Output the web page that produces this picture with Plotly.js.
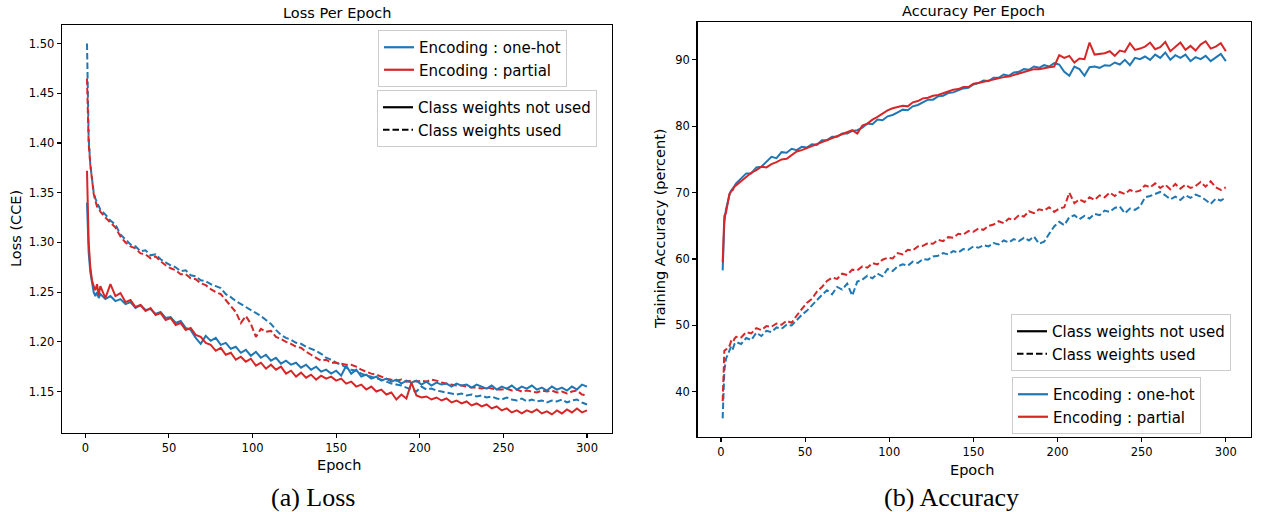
<!DOCTYPE html>
<html>
<head>
<meta charset="utf-8">
<script src="https://cdn.plot.ly/plotly-3.0.1.min.js"></script>
<style>
html,body{margin:0;padding:0;background:#fff;}
#chart{width:1262px;height:512px;}
</style>
</head>
<body>
<div id="chart"></div>
<script>
// ---- Data ----
const epochs = [1,2,3,4,5,6,7,8,
  9,12,15,18,21,24,27,30,33,36,
  39,42,45,48,51,54,57,60,63,66,
  69,72,75,78,81,84,87,90,93,96,
  99,102,105,108,111,114,117,120,123,126,
  129,132,135,138,141,144,147,150,153,156,
  159,162,165,168,171,174,177,180,183,186,
  189,192,195,198,201,204,207,210,213,216,
  219,222,225,228,231,234,237,240,243,246,
  249,252,255,258,261,264,267,270,273,276,
  279,282,285,288,291,294,297,300];

// Loss (CCE)
const lossOneHotNoWeights = [1.340,1.290,1.270,1.258,1.250,1.246,1.250,1.244,
  1.248,1.243,1.246,1.241,1.243,1.238,1.240,1.234,1.237,1.232,
  1.233,1.228,1.230,1.224,1.225,1.219,1.221,1.214,1.212,1.204,
  1.198,1.206,1.201,1.204,1.197,1.199,1.193,1.195,1.189,1.192,
  1.186,1.190,1.184,1.187,1.181,1.184,1.178,1.181,1.177,1.179,
  1.174,1.177,1.172,1.175,1.170,1.172,1.168,1.171,1.166,1.176,
  1.168,1.172,1.165,1.167,1.163,1.165,1.161,1.163,1.160,1.162,
  1.158,1.161,1.159,1.161,1.157,1.160,1.156,1.159,1.157,1.158,
  1.155,1.158,1.156,1.157,1.154,1.157,1.155,1.153,1.156,1.152,
  1.155,1.153,1.156,1.152,1.155,1.153,1.156,1.152,1.154,1.151,
  1.155,1.152,1.154,1.151,1.155,1.152,1.157,1.155];
const lossPartialNoWeights = [1.372,1.300,1.275,1.262,1.256,1.252,1.258,1.247,
  1.256,1.244,1.258,1.246,1.249,1.240,1.242,1.235,1.237,1.231,
  1.234,1.227,1.229,1.222,1.224,1.217,1.219,1.212,1.214,1.207,
  1.205,1.199,1.197,1.191,1.194,1.187,1.189,1.182,1.185,1.180,
  1.183,1.176,1.179,1.173,1.177,1.172,1.175,1.168,1.171,1.165,
  1.169,1.164,1.167,1.162,1.166,1.163,1.165,1.161,1.163,1.158,
  1.160,1.155,1.157,1.152,1.155,1.150,1.152,1.147,1.149,1.142,
  1.147,1.143,1.159,1.146,1.144,1.145,1.142,1.144,1.141,1.143,
  1.139,1.141,1.138,1.140,1.136,1.138,1.135,1.137,1.133,1.135,
  1.131,1.133,1.129,1.131,1.128,1.131,1.129,1.132,1.128,1.130,
  1.127,1.131,1.128,1.132,1.129,1.133,1.129,1.131];
const lossOneHotWeights = [1.500,1.405,1.378,1.360,1.350,1.344,1.340,1.336,
  1.333,1.328,1.322,1.318,1.308,1.303,1.298,1.296,1.291,1.292,
  1.287,1.288,1.283,1.280,1.277,1.275,1.271,1.272,1.267,1.266,
  1.262,1.261,1.258,1.256,1.254,1.248,1.245,1.241,1.238,1.235,
  1.232,1.229,1.226,1.222,1.218,1.212,1.207,1.204,1.202,1.199,
  1.198,1.195,1.193,1.191,1.188,1.184,1.182,1.179,1.177,1.174,
  1.172,1.171,1.168,1.166,1.165,1.163,1.162,1.160,1.158,1.157,
  1.156,1.154,1.152,1.150,1.155,1.152,1.153,1.151,1.150,1.149,
  1.148,1.147,1.148,1.146,1.147,1.145,1.146,1.144,1.145,1.143,
  1.142,1.144,1.142,1.141,1.143,1.140,1.142,1.140,1.141,1.139,
  1.141,1.140,1.142,1.139,1.141,1.142,1.139,1.137];
const lossPartialWeights = [1.465,1.400,1.378,1.360,1.349,1.342,1.336,1.334,
  1.331,1.325,1.320,1.315,1.306,1.300,1.296,1.294,1.289,1.288,
  1.284,1.286,1.281,1.277,1.274,1.272,1.268,1.268,1.264,1.263,
  1.259,1.257,1.253,1.250,1.248,1.242,1.236,1.230,1.219,1.226,
  1.218,1.205,1.213,1.210,1.211,1.205,1.203,1.200,1.198,1.195,
  1.194,1.190,1.187,1.184,1.181,1.182,1.179,1.179,1.178,1.177,
  1.177,1.175,1.172,1.170,1.168,1.167,1.165,1.163,1.162,1.161,
  1.162,1.160,1.161,1.160,1.161,1.160,1.162,1.161,1.159,1.158,
  1.157,1.156,1.156,1.155,1.154,1.154,1.153,1.154,1.153,1.152,
  1.152,1.153,1.151,1.152,1.150,1.151,1.150,1.149,1.151,1.150,
  1.151,1.149,1.150,1.148,1.150,1.151,1.147,1.146];

// Training accuracy (percent)
const accOneHotNoWeights = [58.3,65.5,67.5,68.8,69.6,70.3,70.6,71.0,
  71.4,72.2,72.9,72.9,73.8,73.9,74.6,75.4,75.2,76.1,
  76.0,76.6,76.4,76.9,76.8,77.3,77.2,77.9,77.9,78.4,
  78.4,78.9,78.9,79.3,79.4,79.8,80.4,80.3,81.0,80.9,
  81.5,81.7,82.1,82.5,82.4,83.0,83.2,83.6,84.0,84.0,
  84.5,84.6,85.0,85.1,85.4,85.7,85.8,86.3,86.5,86.9,
  86.8,87.3,87.3,87.8,87.6,88.1,88.2,88.6,88.5,89.0,
  88.8,89.2,89.0,89.5,89.3,88.2,87.6,89.0,88.6,87.6,
  88.9,89.0,88.8,89.2,89.1,89.6,89.3,90.0,89.2,90.3,
  90.1,90.5,90.0,90.8,90.3,91.1,90.0,90.7,90.3,90.8,
  89.8,90.4,90.1,90.6,89.8,90.4,90.9,89.8];
const accPartialNoWeights = [59.5,66.5,67.0,68.6,69.8,70.2,70.4,70.9,
  71.1,71.7,72.4,73.0,73.4,73.9,73.8,74.3,74.6,75.0,
  75.1,75.7,76.2,76.4,76.7,76.9,77.3,77.6,77.9,78.2,
  78.4,78.7,79.1,79.4,78.9,80.1,80.4,81.0,81.4,81.9,
  82.4,82.7,82.9,83.1,83.0,83.6,83.8,84.2,84.3,84.6,
  84.7,85.0,85.2,85.5,85.6,85.9,85.9,86.4,86.5,86.7,
  86.8,87.1,87.2,87.4,87.5,87.7,87.9,88.1,88.4,88.6,
  88.6,88.8,88.9,89.0,90.7,90.3,90.6,89.6,90.2,90.1,
  92.6,90.8,90.9,91.0,91.3,90.6,91.4,91.2,92.5,91.5,
  91.7,92.0,92.6,91.6,91.9,92.7,91.3,91.9,92.6,91.5,
  92.1,91.4,92.3,92.8,91.7,92.0,92.5,91.3];
const accOneHotWeights = [36.0,43.2,45.0,45.6,46.0,46.8,46.4,47.2,
  47.5,47.2,48.1,47.8,48.9,48.4,49.2,49.0,49.7,49.5,
  50.1,50.0,50.8,51.6,52.2,53.0,53.9,54.6,55.3,54.7,
  55.8,55.4,56.3,54.5,56.6,56.9,57.5,57.1,57.8,57.4,
  58.5,58.2,58.9,59.2,59.0,59.6,59.4,60.0,59.9,60.4,
  60.5,60.9,60.7,61.2,61.0,61.5,61.4,61.9,61.7,62.1,
  61.9,62.4,62.2,62.8,62.5,63.0,62.7,63.2,62.8,63.4,
  62.3,62.6,63.8,64.9,65.6,65.1,66.3,66.6,66.0,66.5,
  66.1,66.8,66.6,67.3,67.1,67.7,67.9,66.9,67.6,67.4,
  67.9,69.3,69.5,69.8,70.1,69.6,69.0,69.4,68.9,69.6,
  69.2,69.7,69.4,68.9,68.3,69.1,68.8,69.3];
const accPartialWeights = [38.6,46.2,46.4,46.5,46.9,47.6,47.4,48.0,
  48.3,48.2,49.0,48.8,49.6,49.3,49.9,49.8,50.3,50.1,
  50.7,50.4,51.5,52.4,53.4,54.0,55.1,55.8,56.7,57.2,
  57.0,57.8,57.6,58.4,58.3,58.9,58.7,59.4,59.2,59.9,
  60.2,60.1,60.9,60.7,61.4,61.3,61.9,62.0,62.4,62.3,
  62.9,62.7,63.3,63.2,63.8,63.7,64.2,64.1,64.6,64.4,
  65.0,65.2,65.7,65.4,66.1,65.9,66.6,66.4,67.2,66.9,
  67.5,67.3,67.8,67.1,67.6,67.8,70.0,68.4,69.0,68.6,
  69.3,68.9,69.6,69.3,70.0,69.5,70.1,69.8,70.4,70.1,
  70.3,71.1,70.8,71.4,70.7,71.2,70.5,71.3,70.6,71.2,
  70.7,71.0,71.6,70.9,71.7,70.8,70.4,70.8];

// Tick labels
const epochTicks = [0,50,100,150,200,250,300];
const lossTicks = [1.15,1.20,1.25,1.30,1.35,1.40,1.45,1.50];
const lossTickText = ["1.15","1.20","1.25","1.30","1.35","1.40","1.45","1.50"];
const accTicks = [40,50,60,70,80,90];

// Legend labels
const encodingNames = ["Encoding : one-hot","Encoding : partial"];
const weightNames = ["Class weights not used","Class weights used"];

// ---- Styles ----
const BLUE = "#1f77b4";
const RED = "#d62728";
const DASH = "6.5px,3px";
const LW = 2;
const FONT = "DejaVu Sans";

function series(x, y, color, dash, xa, ya) {
  return {type:"scatter", mode:"lines", x:x, y:y, xaxis:xa, yaxis:ya,
          line:{color:color, width:LW, dash:dash}, showlegend:false, hoverinfo:"skip"};
}
function key(name, color, dash, legend, xa, ya) {
  return {type:"scatter", mode:"lines", x:[null], y:[null], xaxis:xa, yaxis:ya,
          name:name, legend:legend, showlegend:true,
          line:{color:color, width:2.2, dash:dash}, hoverinfo:"skip"};
}

const traces = [
  series(epochs, lossOneHotWeights, BLUE, DASH, "x", "y"),
  series(epochs, lossPartialWeights, RED, DASH, "x", "y"),
  series(epochs, lossOneHotNoWeights, BLUE, "solid", "x", "y"),
  series(epochs, lossPartialNoWeights, RED, "solid", "x", "y"),
  series(epochs, accOneHotWeights, BLUE, DASH, "x2", "y2"),
  series(epochs, accPartialWeights, RED, DASH, "x2", "y2"),
  series(epochs, accOneHotNoWeights, BLUE, "solid", "x2", "y2"),
  series(epochs, accPartialNoWeights, RED, "solid", "x2", "y2"),
  key(encodingNames[0], BLUE, "solid", "legend", "x", "y"),
  key(encodingNames[1], RED, "solid", "legend", "x", "y"),
  key(weightNames[0], "#000", "solid", "legend2", "x", "y"),
  key(weightNames[1], "#000", DASH, "legend2", "x", "y"),
  key(weightNames[0], "#000", "solid", "legend3", "x2", "y2"),
  key(weightNames[1], "#000", DASH, "legend3", "x2", "y2"),
  key(encodingNames[0], BLUE, "solid", "legend4", "x2", "y2"),
  key(encodingNames[1], RED, "solid", "legend4", "x2", "y2")
];

const axisCommon = {
  showline:true, mirror:true, linecolor:"#000", linewidth:1.4,
  ticks:"outside", ticklen:4, tickwidth:1.1, tickcolor:"#000",
  showgrid:false, zeroline:false,
  tickfont:{family:FONT, size:11.5, color:"#000"}
};
const legendCommon = {
  xanchor:"left", yanchor:"top", bgcolor:"rgba(255,255,255,0.9)",
  bordercolor:"#cccccc", borderwidth:1,
  font:{family:FONT, size:15, color:"#000"}, itemwidth:30, traceorder:"normal"
};
function ann(text, x, y, size, angle, family) {
  return {text:text, x:x, y:y, xref:"paper", yref:"paper", xanchor:"center", yanchor:"middle",
          showarrow:false, textangle:angle||0,
          font:{family:family||FONT, size:size, color:"#000"}};
}
const W = 1262, H = 512;
const px = v => v / W, py = v => 1 - v / H;

const layout = {
  width:W, height:H, margin:{l:0,r:0,t:0,b:0},
  paper_bgcolor:"#fff", plot_bgcolor:"#fff",
  font:{family:FONT, color:"#000"},
  showlegend:true,
  xaxis: Object.assign({}, axisCommon, {domain:[px(62), px(612)], range:[-13.95, 314.95], tickvals:epochTicks, anchor:"y"}),
  yaxis: Object.assign({}, axisCommon, {domain:[py(433), py(25)], range:[1.1083, 1.5187], tickvals:lossTicks, ticktext:lossTickText, anchor:"x"}),
  xaxis2: Object.assign({}, axisCommon, {domain:[px(697.5), px(1251)], range:[-13.95, 314.95], tickvals:epochTicks, anchor:"y2"}),
  yaxis2: Object.assign({}, axisCommon, {domain:[py(437), py(22)], range:[33.2, 95.7], tickvals:accTicks, anchor:"x2"}),
  legend:  Object.assign({}, legendCommon, {x:px(378), y:py(30)}),
  legend2: Object.assign({}, legendCommon, {x:px(377), y:py(90)}),
  legend3: Object.assign({}, legendCommon, {x:px(1011), y:py(314)}),
  legend4: Object.assign({}, legendCommon, {x:px(1012), y:py(377)}),
  annotations: [
    ann("Loss Per Epoch", px(337), py(13), 14.5),
    ann("Loss (CCE)", px(16), py(229), 14.5, -90),
    ann("Epoch", px(339), py(465), 14.5),
    ann("(a) Loss", px(313), py(497), 26, 0, "Liberation Serif"),
    ann("Accuracy Per Epoch", px(973), py(11), 14.5),
    ann("Training Accuracy (percent)", px(660), py(229), 14.5, -90),
    ann("Epoch", px(972), py(470), 14.5),
    ann("(b) Accuracy", px(951), py(497), 26, 0, "Liberation Serif")
  ]
};

Plotly.newPlot("chart", traces, layout, {staticPlot:true, displayModeBar:false});
</script>
</body>
</html>
